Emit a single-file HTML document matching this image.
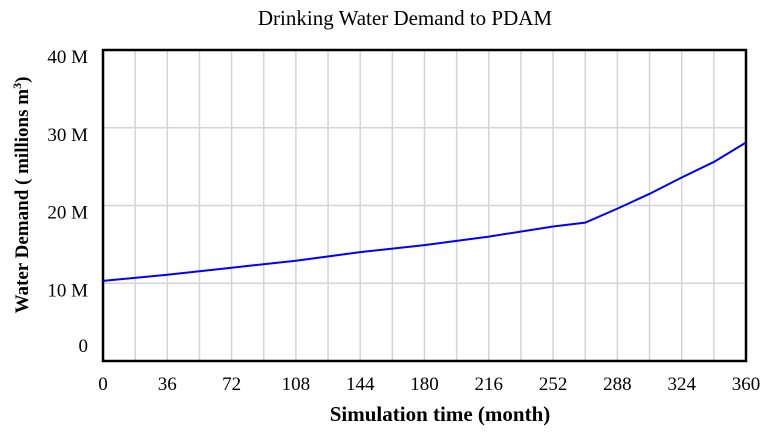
<!DOCTYPE html>
<html><head><meta charset="utf-8"><style>
body{margin:0;background:#fff;width:768px;height:439px;overflow:hidden}
svg{display:block;font-family:"Liberation Serif",serif}
</style></head><body>
<svg width="768" height="439">
<g id="grid"></g>
<g id="axes"></g>
<text x="405" y="25" font-size="21" text-anchor="middle">Drinking Water Demand to PDAM</text>
<text x="440" y="421" font-size="21" font-weight="bold" text-anchor="middle">Simulation time (month)</text>
<text transform="translate(28,195) rotate(-90)" font-size="19" font-weight="bold" text-anchor="middle">Water Demand ( millions m<tspan dy="-7" font-size="12">3</tspan><tspan dy="7">)</tspan></text>
</svg>
<script>
const months=[0,36,72,108,144,180,216,252,270,288,306,324,342,360];
const demand=[10.3,11.1,12.0,12.9,14.0,14.9,16.0,17.3,17.8,19.6,21.5,23.6,25.6,28.1];
const xTicks=[0,36,72,108,144,180,216,252,288,324,360];
const yTicks=[0,10,20,30,40];
const yTickLabels=["0","10 M","20 M","30 M","40 M"];
const L=103,R=746,T=50,B=361;
const sx=v=>L+(v/360)*(R-L);
const sy=v=>B-(v/40)*(B-T);
const NS="http://www.w3.org/2000/svg";
const svg=document.querySelector('svg');
const grid=document.getElementById('grid');
const axes=document.getElementById('axes');
function mk(tag,attrs,parent){const e=document.createElementNS(NS,tag);for(const k in attrs)e.setAttribute(k,attrs[k]);parent.appendChild(e);return e;}
for(let m=18;m<360;m+=18){
 const l=mk('line',{x1:sx(m),x2:sx(m),y1:T,y2:B,stroke:'#d4d4d4','stroke-width':1.5},grid);
 
 
}
yTicks.forEach((v,i)=>{
 if(v>0&&v<40){const l=mk('line',{x1:L,x2:R,y1:sy(v),y2:sy(v),stroke:'#d4d4d4','stroke-width':1.5},grid);
 
 }
 const t=mk('text',{x:88,y:sy(v)+(v==0?-9:13),'font-size':19,'text-anchor':'end'},axes);
 t.textContent=yTickLabels[i];
 
 
});
xTicks.forEach(v=>{
 const t=mk('text',{x:sx(v),y:390,'font-size':19,'text-anchor':'middle'},axes);
 t.textContent=v;
 
 
});
const fr=mk('rect',{x:L,y:T,width:R-L,height:B-T,fill:'none',stroke:'#000','stroke-width':2.5},axes);


const p=mk('polyline',{points:months.map((m,i)=>sx(m)+','+sy(demand[i])).join(' '),fill:'none',stroke:'#0000ff','stroke-width':2},svg);


</script>
</body></html>
